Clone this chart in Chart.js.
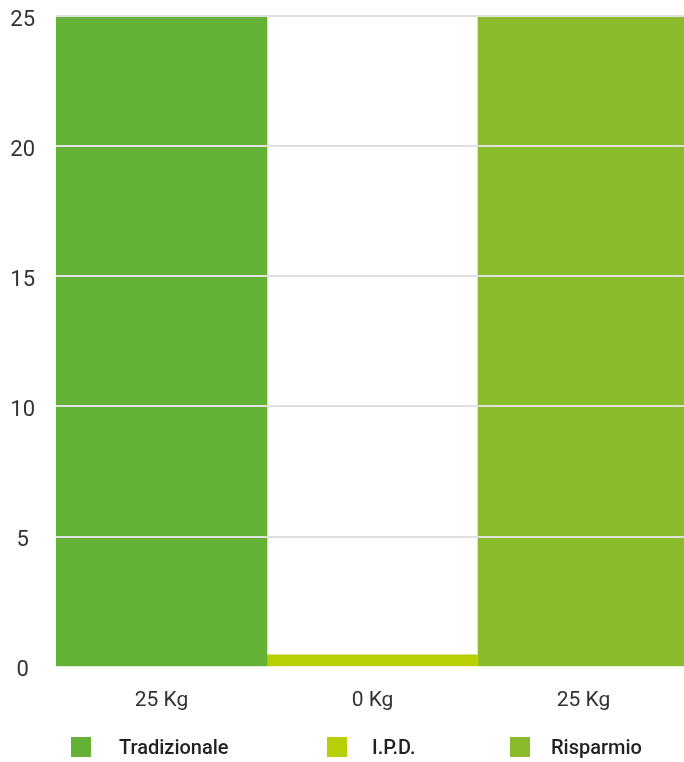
<!DOCTYPE html>
<html>
<head>
<meta charset="utf-8">
<script src="https://cdn.jsdelivr.net/npm/chart.js@4"></script>
<style>
  html, body { margin: 0; padding: 0; background: #fff; overflow: hidden; }
  #wrap { width: 689px; height: 762px; position: relative; }
  .legend-box { position: absolute; width: 20px; height: 20px; top: 737px; }
  .legend-text {
    position: absolute; top: 735px; line-height: 24px;
    font-family: Roboto, sans-serif; font-size: 20px; font-weight: 500; color: #222;
  }
</style>
</head>
<body>
<div id="wrap"><canvas id="chart"></canvas></div>
<script>
const categories = ["25 Kg", "0 Kg", "25 Kg"];
const seriesNames = ["Tradizionale", "I.P.D.", "Risparmio"];
const tradizionale = [25, null, null];
const ipd = [null, 0, null];
const risparmio = [null, null, 25];
const yTicks = [0, 5, 10, 15, 20, 25];

const colors = ["#63b236", "#b8cf05", "#8abb2b"];
const seriesData = [tradizionale, ipd, risparmio];

// legend placement (px), the original lays items out in fixed cells
const legendBoxX = [71, 327, 510];
const legendTextX = [119, 372, 551];

const wrap = document.getElementById("wrap");
seriesNames.forEach((name, i) => {
    const box = document.createElement("div");
    box.className = "legend-box";
    box.style.left = legendBoxX[i] + "px";
    box.style.background = colors[i];
    wrap.appendChild(box);

    const txt = document.createElement("div");
    txt.className = "legend-text";
    txt.style.left = legendTextX[i] + "px";
    txt.textContent = name;
    wrap.appendChild(txt);
});

new Chart(document.getElementById("chart"), {
    type: "bar",
    data: {
        labels: categories,
        datasets: seriesNames.map((name, i) => ({
            label: name,
            data: seriesData[i],
            backgroundColor: colors[i],
            borderWidth: 0,
            barPercentage: 1,
            categoryPercentage: 1,
            minBarLength: 12,
            skipNull: true,
        })),
    },
    options: {
        responsive: true,
        maintainAspectRatio: false,
        animation: false,
        layout: {
            padding: { left: 10, right: 0, top: 16, bottom: 36 },
        },
        plugins: {
            tooltip: { enabled: false },
            legend: { display: false },
        },
        scales: {
            x: {
                grid: { display: false },
                border: { display: false },
                ticks: {
                    color: "#333",
                    padding: 13,
                    font: { family: "Roboto", size: 21 },
                },
            },
            y: {
                min: 0,
                max: 25,
                afterBuildTicks: (axis) => {
                    axis.ticks = yTicks.map((v) => ({ value: v }));
                },
                // keep the axis narrow and let the bars reach the top edge
                afterFit: (scale) => {
                    scale.width = 46;
                    scale.paddingTop = 0;
                    scale.paddingBottom = 0;
                },
                border: { display: false },
                grid: {
                    z: 1,
                    drawTicks: false,
                    color: (ctx) => (ctx.tick && ctx.tick.value === 0 ? "rgba(0,0,0,0)" : "#e0e0e0"),
                    lineWidth: 2,
                },
                ticks: {
                    color: "#333",
                    padding: 21,
                    labelOffset: 4,
                    crossAlign: "center",
                    font: { family: "Roboto", size: 22 },
                },
            },
        },
    },
});
</script>
</body>
</html>
